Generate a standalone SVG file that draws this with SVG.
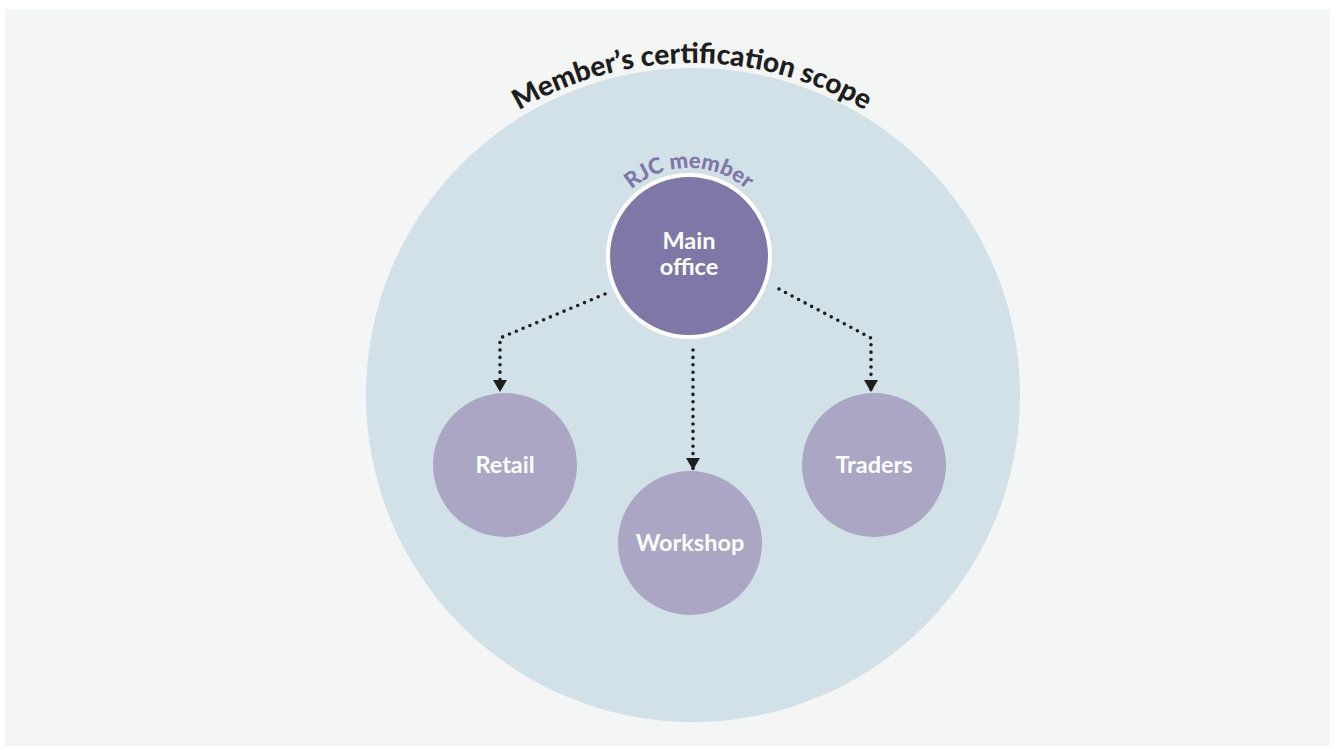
<svg xmlns="http://www.w3.org/2000/svg" width="1335" height="749" viewBox="0 0 1335 749">
<style>
.lbl{font-family:Lato,"Liberation Sans",sans-serif;font-weight:700;font-size:23.5px;fill:#ffffff;text-anchor:middle}
.sub{fill:#aaa6c4}
.con{fill:none;stroke:#1e1e20;stroke-width:3.6;stroke-linecap:round;stroke-dasharray:0 7.4}
</style>
<defs>
<marker id="ah" markerWidth="12" markerHeight="14" refX="12" refY="7" orient="auto" markerUnits="userSpaceOnUse" viewBox="0 0 12 14">
<path d="M0,0 L12,7 L0,14 Z" fill="#1e1e20"/>
</marker>
<path id="titleArc" d="M 353,402 A 339,339 0 0 1 1031,402"/>
<path id="rjcArc" d="M 601,256 A 88,88 0 0 1 777,256"/>
</defs>
<rect x="0" y="0" width="1335" height="749" fill="#ffffff"/>
<rect x="5" y="9" width="1325" height="737" fill="#f4f5f5"/>
<g id="scope">
<circle cx="693" cy="395" r="327" fill="#d2e0e8"/>
<text font-family="Lato,'Liberation Sans',sans-serif" font-weight="900" font-size="28" fill="#1e1e20" text-anchor="middle"><textPath href="#titleArc" startOffset="50%">Member’s certification scope</textPath></text>
</g>
<g id="connectors">
<polyline class="con" points="605,294 500,338 500,392" marker-end="url(#ah)"/>
<polyline class="con" points="693,350 693,470" marker-end="url(#ah)"/>
<polyline class="con" points="779,289 871,338 871,392" marker-end="url(#ah)"/>
</g>
<g id="main-office">
<circle cx="689" cy="256" r="81" fill="#7f78a7" stroke="#ffffff" stroke-width="4"/>
<text font-family="Lato,'Liberation Sans',sans-serif" font-weight="900" font-size="22" fill="#7f78a7" text-anchor="middle"><textPath href="#rjcArc" startOffset="50%">RJC member</textPath></text>
<text class="lbl" x="689" y="249">Main</text>
<text class="lbl" x="689" y="275">office</text>
</g>
<g id="retail">
<circle class="sub" cx="505" cy="465" r="72"/>
<text class="lbl" x="505" y="473">Retail</text>
</g>
<g id="workshop">
<circle class="sub" cx="690" cy="543" r="72"/>
<text class="lbl" x="690" y="551">Workshop</text>
</g>
<g id="traders">
<circle class="sub" cx="874" cy="465" r="72"/>
<text class="lbl" x="874" y="473">Traders</text>
</g>
</svg>
